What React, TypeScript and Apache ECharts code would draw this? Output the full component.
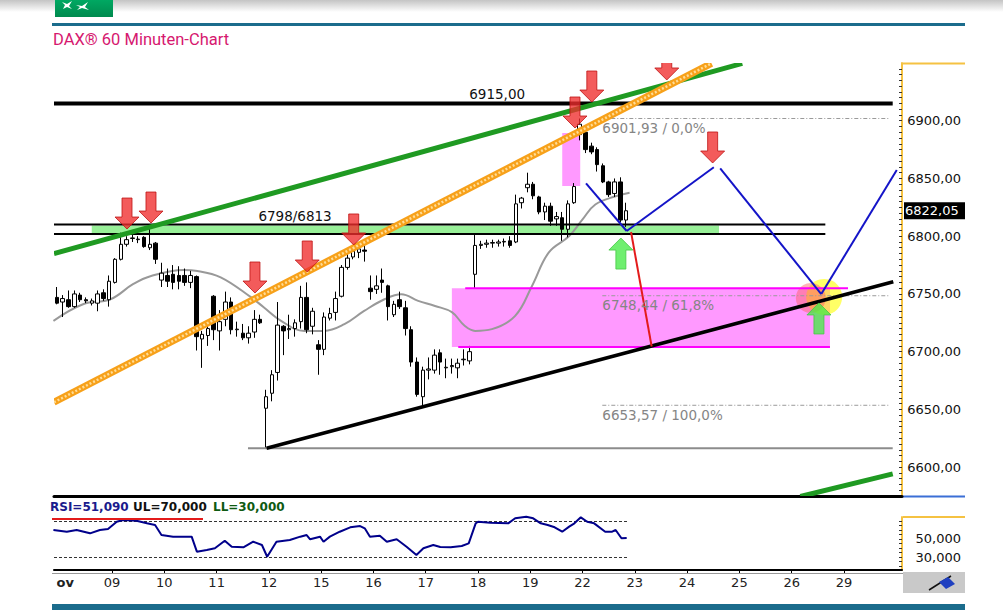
import React, { useEffect, useRef } from 'react';
import * as echarts from 'echarts';

const SLOTS = 146;
const FONT = '"DejaVu Sans", Verdana, sans-serif';

// hourly candles: [open, close, low, high]
const candles: number[][] = [
  [6747, 6742, 6741, 6756], [6743, 6746, 6730, 6749], [6745, 6739, 6738, 6753], [6739, 6750, 6738, 6753],
  [6749, 6745, 6743, 6751], [6745, 6744, 6742, 6747], [6742, 6744, 6740, 6746], [6742, 6750, 6735, 6753],
  [6751, 6746, 6744, 6754], [6745, 6761, 6739, 6766], [6760, 6780, 6759, 6781], [6780, 6793, 6779, 6803],
  [6793, 6797, 6791, 6800], [6798, 6798.5, 6795, 6802], [6797, 6797.5, 6794, 6800], [6799, 6791, 6790, 6800],
  [6790, 6793, 6788, 6809], [6794, 6780, 6776, 6795], [6762, 6768, 6756, 6777], [6766, 6761, 6756, 6772],
  [6767, 6760, 6754, 6775], [6766, 6761, 6754, 6774], [6766, 6760, 6757, 6772], [6760, 6766, 6755, 6770],
  [6765, 6713, 6701, 6766], [6711, 6715, 6686, 6718], [6714, 6720, 6705, 6723], [6748, 6719, 6710, 6749],
  [6718, 6726, 6701, 6736], [6728, 6743, 6722, 6752], [6743, 6719, 6715, 6747], [6719, 6719.5, 6713, 6726],
  [6716, 6712, 6710, 6724], [6712, 6716, 6707, 6722], [6717, 6728, 6712, 6736], [6728, 6725, 6724, 6732],
  [6651, 6661, 6616.6, 6667], [6664, 6680, 6657, 6684], [6682, 6723, 6675, 6743], [6722, 6718, 6697, 6723],
  [6719, 6720, 6711, 6732], [6720, 6725, 6713, 6728], [6726, 6747, 6720, 6757], [6747, 6719, 6716, 6760],
  [6722, 6735, 6715, 6738], [6706, 6702, 6680, 6710], [6702, 6730, 6697, 6734], [6729, 6733, 6727, 6738],
  [6734, 6746, 6727, 6752], [6748, 6773, 6747, 6775], [6773, 6781, 6771, 6788], [6782, 6787, 6780, 6790],
  [6786, 6789, 6781, 6792], [6788, 6787, 6778, 6793], [6755, 6752, 6745, 6766], [6754, 6757, 6750, 6766],
  [6762, 6760, 6751, 6772], [6757, 6739, 6727, 6758], [6732, 6741, 6730, 6744], [6745, 6739, 6737, 6752],
  [6738, 6720, 6714, 6744], [6719, 6691, 6687, 6722], [6691, 6663, 6661, 6695], [6661, 6684, 6652, 6687],
  [6684, 6685, 6676, 6695], [6684, 6697, 6681, 6702], [6699, 6691, 6680, 6702], [6686, 6686.5, 6677, 6694],
  [6687, 6688, 6681, 6694], [6686, 6690, 6677, 6694], [6693, 6693.5, 6688, 6702], [6692, 6700, 6689, 6705],
  [6767, 6792, 6755, 6801], [6792, 6793, 6789, 6796], [6793, 6794, 6790, 6797], [6794, 6794.5, 6790, 6797],
  [6794, 6795, 6791, 6797], [6795, 6795.5, 6791, 6798], [6796, 6792, 6790, 6800], [6795, 6828, 6794, 6836],
  [6829, 6833, 6824, 6834], [6842, 6845, 6838, 6855], [6845, 6835, 6832, 6847], [6834, 6821, 6819, 6835],
  [6821, 6826, 6814, 6829], [6826, 6813, 6809, 6829], [6815, 6817, 6809, 6821], [6816, 6806, 6796, 6821],
  [6806, 6828, 6799, 6831], [6829, 6843, 6828, 6846], [6888, 6897, 6883, 6901.93], [6890, 6875, 6872, 6894],
  [6878, 6873, 6871, 6881], [6875, 6862, 6856, 6877], [6861, 6847, 6846, 6863], [6847, 6836, 6834, 6848],
  [6837, 6847, 6834, 6850], [6847, 6814, 6812, 6851], [6814, 6822.05, 6808, 6829],
];

// moving average: [bar position, price]
const maPoints: number[][] = [
  [-0.6, 6726.7], [4.5, 6741.1], [9.2, 6745.4], [13.1, 6758.4], [16.1, 6765.3], [21.8, 6770.7],
  [24.2, 6769.9], [28.2, 6764.4], [33.4, 6747.2], [35.6, 6738.5], [38.6, 6726.7], [42.6, 6718.0],
  [46.0, 6718.0], [49.5, 6723.8], [52.9, 6735.3], [56.4, 6745.4], [59.3, 6749.7], [62.2, 6744.0],
  [65.1, 6739.6], [68.0, 6734.2], [70.2, 6722.4], [72.0, 6718.0], [74.9, 6719.5], [78.9, 6731.0],
  [81.8, 6756.9], [84.7, 6786.0], [88.2, 6800.1], [90.5, 6814.5], [92.7, 6827.5], [96.2, 6834.6],
  [98.6, 6837.6],
];

// RSI: [bar position, value]
const rsiPoints: number[][] = [
  [-0.6, 60.0], [1.7, 58.1], [3.4, 60.0], [5.7, 56.3], [7.4, 60.0], [8.8, 61.1], [10.3, 69.2], [11.4, 71.1],
  [13.7, 70.3], [15.5, 67.4], [16.9, 65.6], [18.0, 54.4], [20.0, 52.6], [21.7, 52.6], [23.2, 52.6], [24.1, 35.9],
  [25.8, 37.8], [27.2, 39.7], [28.9, 48.1], [30.1, 41.4], [32.1, 40.8], [33.8, 47.0], [35.3, 43.3], [36.2, 30.3],
  [37.8, 47.0], [40.1, 48.9], [41.9, 52.6], [43.0, 54.4], [43.6, 49.7], [45.3, 52.6], [45.9, 47.0], [47.0, 52.6],
  [48.7, 58.1], [50.5, 63.0], [52.2, 64.4], [53.0, 61.9], [53.9, 52.6], [55.6, 53.7], [56.8, 47.0], [58.5, 49.7],
  [60.2, 41.4], [61.9, 32.2], [63.1, 39.7], [64.8, 43.3], [66.0, 41.1], [67.8, 40.8], [69.7, 42.2], [70.9, 45.2],
  [72.1, 67.4], [72.5, 69.2], [74.6, 68.1], [77.7, 67.4], [78.9, 73.0], [80.8, 74.8], [82.0, 73.0], [83.3, 67.4],
  [84.5, 65.6], [85.7, 63.0], [87.0, 58.1], [88.2, 63.7], [89.1, 67.4], [90.2, 74.1], [91.3, 69.2], [92.5, 67.4],
  [94.4, 58.1], [95.6, 58.1], [96.2, 60.0], [97.2, 50.8], [98.1, 51.09],
];
const RSI_LAST = 51.09;
const RSI_UL = 70;
const RSI_LL = 30;

const dayLabels = ['Nov', '09', '10', '11', '12', '15', '16', '17', '18', '19', '22', '23', '24', '25', '26', '29'];
const BARS_PER_DAY = 9;
const dayPos = dayLabels.map((_, k) => 0.5 + BARS_PER_DAY * k);
const priceLabels = [6600, 6650, 6700, 6750, 6800, 6850, 6900];
const rsiLabels = [30, 50];

const level6915 = 6915;
const zoneHigh = 6810.1;
const zoneLow = 6801.9;
const zoneLabel = '6798/6813';
const fibLevels = [6901.93, 6748.44, 6653.57];
const fibPct = ['0,0%', '61,8%', '100,0%'];
const swingLow = 6616.3;

const segments = [
  { kind: 'heavy', a: [-0.5, level6915], b: [143.9, level6915] },
  { kind: 'thin', a: [-0.5, zoneHigh], b: [132.3, zoneHigh] },
  { kind: 'thin', a: [-0.5, zoneLow], b: [132.3, zoneLow] },
  { kind: 'gray', a: [32.9, swingLow], b: [143.9, swingLow] },
  ...fibLevels.map((v) => ({ kind: 'fib', a: [93.9, v], b: [143.4, v] })),
  { kind: 'magenta', a: [70.3, 6754.9], b: [136.2, 6754.9] },
  { kind: 'magenta', a: [69.1, 6704.0], b: [133.1, 6704.0] },
  { kind: 'support', a: [36.1, 6616.3], b: [144.0, 6760.6] },
  { kind: 'green', a: [-0.5, 6785.0], b: [118.0, 6949.6] },
  { kind: 'green', a: [128.0, 6574.6], b: [143.9, 6594.1] },
  { kind: 'orange', a: [-0.5, 6656.2], b: [112.7, 6949.7] },
  { kind: 'red', a: [98.85, 6803.6], b: [102.4, 6704.5] },
  { kind: 'blue', a: [91.1, 6845.8], b: [98.1, 6804.5] },
  { kind: 'blue', a: [98.1, 6804.5], b: [113.1, 6859.7] },
  { kind: 'blue', a: [114.2, 6858.8], b: [131.6, 6749.9] },
  { kind: 'blue', a: [131.6, 6749.9], b: [144.6, 6857.3] },
];
const segStyles: any = {
  heavy: { color: '#000', width: 4 },
  thin: { color: '#000', width: 2 },
  gray: { color: '#8c8c8c', width: 2 },
  fib: { color: '#9a9a9a', width: 1, dash: [4, 2, 1, 2] },
  magenta: { color: '#ff00ff', width: 2 },
  support: { color: '#000', width: 3.5 },
  green: { color: '#1f9a22', width: 5 },
  orange: { color: '#f7a11a', width: 7 },
  red: { color: '#e31b1b', width: 2 },
  blue: { color: '#1414c8', width: 2 },
};

const zones = [
  { kind: 'band', a: [6.0, 6809.3], b: [114.0, 6802.7] },
  { kind: 'pink', a: [68.0, 6754.9], b: [133.1, 6704.0] },
  { kind: 'pink', a: [87.0, 6889.4], b: [90.1, 6843.5] },
];
const zoneStyles: any = { band: '#98f098', pink: 'rgba(255,0,255,0.4)' };

const highlightCircles = [[132.1, 6747.4], [129.8, 6746.5]];
const circleStyles = [
  { r: 18, fill: 'rgba(255,255,0,0.6)' },
  { r: 15, fill: 'rgba(255,90,90,0.45)' },
];

const sellArrows = [
  [12.07, 6806.2], [16.2, 6811.4], [34.1, 6750.8], [43.1, 6769.0], [51.1, 6792.4],
  [89.2, 6893.7], [92.1, 6916.2], [105.0, 6935.3], [112.9, 6863.4],
];
const buyArrows = [[97.1, 6798.4], [131.2, 6742.2]];

const fmt = (v: number, d: number) => v.toFixed(d).replace('.', ',');

const notes = [
  { text: fmt(level6915, 2), at: [75.8, level6915], dy: -9.5, align: 'center', color: '#111' },
  { text: zoneLabel, at: [41.0, zoneHigh], dy: -8.5, align: 'center', color: '#111' },
  ...fibLevels.map((v, i) => ({ text: `${fmt(v, 2)} / ${fibPct[i]}`, at: [93.9, v], dy: 9.5, align: 'left', color: '#858585' })),
];

const lastClose = candles[candles.length - 1][1];

function arrowRender(dir: 'down' | 'up', fill: string, stroke: string) {
  return (params: any, api: any) => {
    const p = api.coord([api.value(0), api.value(1)]);
    const x = p[0], y = p[1];
    const s = dir === 'down' ? 1 : -1;
    const L = 31, H = 12, HW = 12, SW = 5;
    const pts = [
      [x - SW, y - s * L], [x + SW, y - s * L], [x + SW, y - s * H], [x + HW, y - s * H],
      [x, y], [x - HW, y - s * H], [x - SW, y - s * H],
    ];
    return { type: 'polygon', shape: { points: pts }, style: { fill, stroke, lineWidth: 1 } };
  };
}

export default function App() {
  const ref = useRef<HTMLDivElement>(null);
  useEffect(() => {
    if (!ref.current) return;
    const chart = echarts.init(ref.current, undefined, { renderer: 'svg' });
    const categories = Array.from({ length: SLOTS }, (_, i) => String(i));
    const priceTicks: number[] = [];
    for (let v = 6580; v <= 6945; v += 5) priceTicks.push(v);
    const rsiTicks: number[] = [];
    for (let v = 20; v <= 70; v += 5) rsiTicks.push(v);

    const option: any = {
      animation: false,
      backgroundColor: '#ffffff',
      grid: [
        { left: 54, top: 63, width: 848, height: 433 },
        { left: 54, top: 517, width: 848, height: 53 },
      ],
      xAxis: [
        {
          type: 'category', gridIndex: 0, data: categories, boundaryGap: true,
          axisLine: { show: true, onZero: false, lineStyle: { color: '#000', width: 3 } },
          axisTick: { show: false }, axisLabel: { show: false }, splitLine: { show: false },
        },
        { type: 'value', gridIndex: 0, min: -0.5, max: SLOTS - 0.5, show: false, axisLine: { onZero: false } },
        {
          type: 'value', gridIndex: 1, min: -0.5, max: SLOTS - 0.5,
          axisLine: { show: true, onZero: false, lineStyle: { color: '#000', width: 2 } },
          axisTick: { show: true, customValues: dayPos.slice(1), length: 3, lineStyle: { color: '#000' } },
          axisLabel: {
            customValues: dayPos, margin: 6, fontSize: 13, fontFamily: FONT, color: '#222',
            formatter: (v: number) => {
              const i = dayPos.findIndex((p) => Math.abs(p - v) < 1e-6);
              if (i < 0) return '';
              return i === 0 ? `{b|${dayLabels[i]}}` : dayLabels[i];
            },
            rich: { b: { fontWeight: 'bold', fontSize: 13, fontFamily: FONT, color: '#222' } },
          },
          splitLine: { show: false },
        },
      ],
      yAxis: [
        {
          type: 'value', gridIndex: 0, position: 'right', min: 6575, max: 6950,
          axisLine: { show: true, onZero: false, lineStyle: { color: '#f5c242', width: 2 } },
          axisTick: { show: true, inside: true, customValues: priceTicks, length: 3, lineStyle: { color: '#333' } },
          axisLabel: {
            customValues: priceLabels, align: 'right', margin: 59, fontSize: 13, fontFamily: FONT, color: '#111',
            formatter: (v: number) => fmt(v, 2),
          },
          splitLine: { show: false },
        },
        {
          type: 'value', gridIndex: 1, position: 'right', min: 15.56, max: 74.44,
          axisLine: { show: true, onZero: false, lineStyle: { color: '#f5c242', width: 2 } },
          axisTick: { show: true, inside: true, customValues: rsiTicks, length: 3, lineStyle: { color: '#333' } },
          axisLabel: {
            customValues: rsiLabels, align: 'right', margin: 59, fontSize: 13, fontFamily: FONT, color: '#111',
            formatter: (v: number) => fmt(v, 3),
          },
          splitLine: { show: false },
        },
      ],
      graphic: [
        {
          type: 'rect', shape: { x: 0, y: 0, width: 1003, height: 12 }, z: 1,
          style: { fill: new echarts.graphic.LinearGradient(0, 0, 0, 1, [{ offset: 0, color: '#c4c4c4' }, { offset: 1, color: '#ffffff' }]) },
        },
        {
          type: 'rect', shape: { x: 55, y: 0, width: 58, height: 17 }, z: 2,
          style: { fill: new echarts.graphic.LinearGradient(0, 0, 0, 1, [{ offset: 0, color: '#00a862' }, { offset: 1, color: '#008a4e' }]) },
        },
        { type: 'polygon', z: 3, shape: { points: [[62, 2], [67, 4], [72, 1], [69, 6], [72, 9], [67, 7], [63, 9], [65, 5]] }, style: { fill: '#fff' } },
        { type: 'polygon', z: 3, shape: { points: [[76, 5], [82, 6], [88, 2], [85, 7], [89, 10], [82, 8], [77, 10], [80, 7]] }, style: { fill: '#fff' } },
        { type: 'rect', shape: { x: 52, y: 23, width: 913, height: 3 }, style: { fill: '#1b6c8c' } },
        {
          type: 'text', x: 53, y: 39,
          style: { text: 'DAX® 60 Minuten-Chart', fill: '#d6186f', font: '16.5px Roboto, "Noto Sans", sans-serif', verticalAlign: 'middle' },
        },
        { type: 'line', shape: { x1: 903, y1: 63.5, x2: 965, y2: 63.5 }, style: { stroke: '#f5c242', lineWidth: 2 } },
        { type: 'line', shape: { x1: 903, y1: 496.5, x2: 965, y2: 496.5 }, style: { stroke: '#3b6fd6', lineWidth: 2 } },
        { type: 'line', shape: { x1: 903, y1: 517, x2: 965, y2: 517 }, style: { stroke: '#f5c242', lineWidth: 2 } },
        {
          type: 'text', x: 50, y: 507,
          style: { text: `RSI=${fmt(RSI_LAST, 3)}`, fill: '#1a1a8c', font: `bold 12px ${FONT}`, verticalAlign: 'middle' },
        },
        {
          type: 'text', x: 133, y: 507,
          style: { text: `UL=${fmt(RSI_UL, 3)}`, fill: '#111', font: `bold 12px ${FONT}`, verticalAlign: 'middle' },
        },
        {
          type: 'text', x: 213, y: 507,
          style: { text: `LL=${fmt(RSI_LL, 3)}`, fill: '#0e5a12', font: `bold 12px ${FONT}`, verticalAlign: 'middle' },
        },
        { type: 'line', z: 20, shape: { x1: 52, y1: 519, x2: 203, y2: 519 }, style: { stroke: '#e31b1b', lineWidth: 2 } },
        { type: 'line', shape: { x1: 52, y1: 573.5, x2: 903, y2: 573.5 }, style: { stroke: '#999', lineWidth: 1 } },
        { type: 'rect', shape: { x: 903, y: 572, width: 62, height: 21 }, style: { fill: '#c9c9c9' } },
        { type: 'line', shape: { x1: 929, y1: 590, x2: 951, y2: 576 }, style: { stroke: '#111', lineWidth: 1.5 } },
        { type: 'polygon', shape: { points: [[939, 582], [948, 577], [955, 584], [946, 589]] }, style: { fill: '#2040c0' } },
        { type: 'rect', z: 100, shape: { x: 0, y: 575, width: 56.5, height: 20 }, style: { fill: '#fff' } },
        { type: 'rect', shape: { x: 52, y: 604, width: 913, height: 6 }, style: { fill: '#1b6c8c' } },
      ],
      series: [
        {
          name: 'zones', type: 'custom', xAxisIndex: 1, yAxisIndex: 0, clip: true, z: 1,
          data: zones.map((z) => [z.a[0], z.a[1], z.b[0], z.b[1]]),
          encode: { x: [0, 2], y: [1, 3] },
          renderItem: (params: any, api: any) => {
            const z = zones[params.dataIndex];
            const p1 = api.coord(z.a);
            const p2 = api.coord(z.b);
            return {
              type: 'rect',
              shape: { x: Math.min(p1[0], p2[0]), y: Math.min(p1[1], p2[1]), width: Math.abs(p2[0] - p1[0]), height: Math.abs(p2[1] - p1[1]) },
              style: { fill: zoneStyles[z.kind] },
            };
          },
        },
        {
          name: 'circles', type: 'custom', xAxisIndex: 1, yAxisIndex: 0, clip: true, z: 2,
          data: highlightCircles,
          encode: { x: 0, y: 1 },
          renderItem: (params: any, api: any) => {
            const p = api.coord([api.value(0), api.value(1)]);
            const s = circleStyles[params.dataIndex];
            return { type: 'circle', shape: { cx: p[0], cy: p[1], r: s.r }, style: { fill: s.fill } };
          },
        },
        {
          name: 'MA', type: 'line', xAxisIndex: 1, yAxisIndex: 0, data: maPoints, smooth: 0.4,
          symbol: 'none', z: 3, lineStyle: { color: '#999999', width: 2 },
        },
        {
          name: 'DAX', type: 'candlestick', xAxisIndex: 0, yAxisIndex: 0, data: candles, barWidth: 4, z: 4,
          itemStyle: { color: '#ffffff', color0: '#000000', borderColor: '#000000', borderColor0: '#000000', borderWidth: 1 },
        },
        {
          name: 'lines', type: 'custom', xAxisIndex: 1, yAxisIndex: 0, clip: true, z: 5,
          data: segments.map((s) => [s.a[0], s.a[1], s.b[0], s.b[1]]),
          encode: { x: [0, 2], y: [1, 3] },
          renderItem: (params: any, api: any) => {
            const s = segments[params.dataIndex];
            const st = segStyles[s.kind];
            const p1 = api.coord(s.a);
            const p2 = api.coord(s.b);
            const shape = { x1: p1[0], y1: p1[1], x2: p2[0], y2: p2[1] };
            const children: any[] = [
              { type: 'line', shape, style: { stroke: st.color, lineWidth: st.width, lineDash: st.dash || null } },
            ];
            if (s.kind === 'orange') {
              children.push({ type: 'line', shape, style: { stroke: '#ffdc96', lineWidth: 2.5, lineDash: [2, 2] } });
            }
            return { type: 'group', children };
          },
        },
        {
          name: 'sell', type: 'custom', xAxisIndex: 1, yAxisIndex: 0, clip: true, z: 6,
          data: sellArrows, encode: { x: 0, y: 1 },
          renderItem: arrowRender('down', 'rgba(240,45,45,0.78)', 'rgba(190,20,20,0.8)'),
        },
        {
          name: 'buy', type: 'custom', xAxisIndex: 1, yAxisIndex: 0, clip: true, z: 6,
          data: buyArrows, encode: { x: 0, y: 1 },
          renderItem: arrowRender('up', 'rgba(70,235,70,0.78)', 'rgba(70,200,70,0.8)'),
        },
        {
          name: 'notes', type: 'custom', xAxisIndex: 1, yAxisIndex: 0, z: 7,
          data: notes.map((n) => n.at), encode: { x: 0, y: 1 },
          renderItem: (params: any, api: any) => {
            const n = notes[params.dataIndex];
            const p = api.coord(n.at);
            return {
              type: 'text', x: p[0], y: p[1] + n.dy,
              style: { text: n.text, fill: n.color, font: `13.5px ${FONT}`, align: n.align, verticalAlign: 'middle' },
            };
          },
        },
        {
          name: 'last', type: 'custom', xAxisIndex: 1, yAxisIndex: 0, z: 8, clip: false,
          data: [[SLOTS - 0.5, lastClose]], encode: { x: 0, y: 1 },
          renderItem: (params: any, api: any) => {
            const p = api.coord([api.value(0), api.value(1)]);
            return {
              type: 'group',
              children: [
                { type: 'rect', shape: { x: p[0] + 2, y: p[1] - 8.5, width: 61, height: 17 }, style: { fill: '#000' } },
                { type: 'text', x: p[0] + 3, y: p[1], style: { text: fmt(lastClose, 2), fill: '#fff', font: `13px ${FONT}`, verticalAlign: 'middle' } },
              ],
            };
          },
        },
        {
          name: 'RSI', type: 'line', xAxisIndex: 2, yAxisIndex: 1, data: rsiPoints, symbol: 'none', clip: false,
          z: 5, lineStyle: { color: '#00008b', width: 2 },
          markLine: {
            silent: true, symbol: ['none', 'none'], label: { show: false },
            lineStyle: { type: [3, 2], color: '#333', width: 1 },
            data: [
              [{ coord: [-0.5, RSI_UL] }, { coord: [98.2, RSI_UL] }],
              [{ coord: [-0.5, RSI_LL] }, { coord: [98.2, RSI_LL] }],
            ],
          },
        },
      ],
    };
    chart.setOption(option);
    return () => chart.dispose();
  }, []);
  return <div ref={ref} style={{ position: 'absolute', left: 0, top: 0, width: 1003, height: 610 }} />;
}
